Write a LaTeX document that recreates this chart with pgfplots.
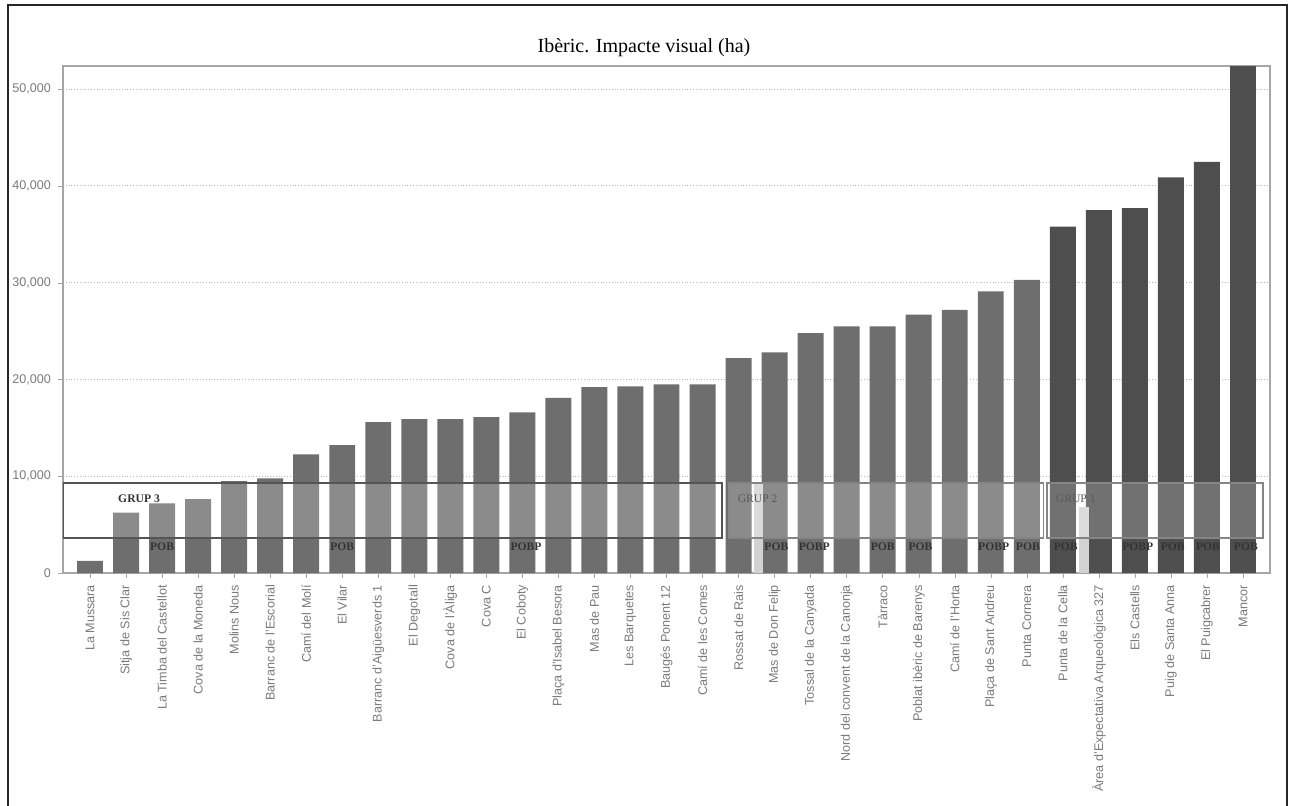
\documentclass[border=0pt]{standalone}
\usepackage{fontspec}
\setmainfont{Liberation Sans}
\newfontfamily\seriffont{Liberation Serif}
\usepackage{pgfplots}
\pgfplotsset{compat=1.18}
\definecolor{barA}{HTML}{6E6E6E}
\definecolor{barB}{HTML}{4E4E4E}
\definecolor{boxA}{HTML}{555555}
\definecolor{boxB}{HTML}{858585}
\definecolor{tickc}{HTML}{7A7A7A}
\begin{document}
\begin{tikzpicture}
\useasboundingbox (0,0) rectangle (646pt,402.5pt);
\draw[line width=0.8pt, black!85] (4pt,-2pt) -- (4pt,400pt) -- (643.5pt,400pt) -- (643.5pt,-2pt);
\node[font=\seriffont\fontsize{10}{12}\selectfont] at (322pt,378.5pt) {Ibèric. Impacte visual (ha)};
\begin{axis}[
  at={(31.5pt,116pt)}, anchor=south west, scale only axis,
  width=603.5pt, height=253.5pt,
  xmin=-0.75, xmax=32.75, ymin=0, ymax=52400,
  ybar, bar width=0.72,
  xtick={0,...,32},
  xtick pos=bottom, ytick pos=left,
  xticklabels={La Mussara, Sitja de Sis Clar, La Timba del Castellot, Cova de la Moneda, Molins Nous, Barranc de l'Escorial, Camí del Molí, El Vilar, Barranc d'Aigüesverds 1, El Degotall, Cova de l'Àliga, Cova C, El Coboty, Plaça d'Isabel Besora, Mas de Pau, Les Barquetes, Baugés Ponent 12, Camí de les Comes, Rossat de Rais, Mas de Don Felip, Tossal de la Canyada, Nord del convent de la Canonja, Tàrraco, Poblat ibèric de Barenys, Camí de l'Horta, Plaça de Sant Andreu, Punta Cornera, Punta de la Cella, Àrea d'Expectativa Arqueològica 327, Els Castells, Puig de Santa Anna, El Puigcabrer, Mancor},
  ytick={0,10000,20000,30000,40000,50000},
  scaled y ticks=false,
  yticklabel style={/pgf/number format/1000 sep={,}, /pgf/number format/assume math mode=true},
  ymajorgrids, grid style={gray!55, densely dotted, line width=0.5pt},
  axis line style={gray!70, line width=0.6pt},
  tick style={gray!70}, tick align=outside, major tick length=2.5pt,
  ticklabel style={font=\fontsize{6.3}{7}\selectfont, text=tickc},
  xticklabel style={rotate=90, anchor=east},
]
\addplot[ybar, bar shift=0pt, fill=barA, draw=none] coordinates {
(0,1250) (1,6230) (2,7200) (3,7640) (4,9500) (5,9780) (6,12260) (7,13220)
(8,15600) (9,15900) (10,15900) (11,16100) (12,16600) (13,18100) (14,19200)
(15,19300) (16,19500) (17,19500) (18,22200) (19,22800) (20,24800) (21,25500)
(22,25500) (23,26700) (24,27200) (25,29100) (26,30300)};
\addplot[ybar, bar shift=0pt, fill=barB, draw=none] coordinates {
(27,35800) (28,37500) (29,37700) (30,40900) (31,42500) (32,52400)};
% light strips
\fill[gray!35] (axis cs:18.42,0) rectangle (axis cs:18.67,9300);
\fill[gray!35] (axis cs:27.44,0) rectangle (axis cs:27.72,6800);
% group boxes
\fill[white, opacity=0.2] (axis cs:-0.75,3600) rectangle (axis cs:17.55,9300);
\draw[boxA, line width=0.9pt] (axis cs:-0.75,3600) rectangle (axis cs:17.55,9300);
\fill[white, opacity=0.2] (axis cs:17.72,3600) rectangle (axis cs:26.47,9300);
\draw[boxB, line width=0.7pt] (axis cs:17.72,3600) rectangle (axis cs:26.47,9300);
\fill[white, opacity=0.2] (axis cs:26.56,3600) rectangle (axis cs:32.56,9300);
\draw[boxB, line width=0.7pt] (axis cs:26.56,3600) rectangle (axis cs:32.56,9300);
\node[font=\seriffont\bfseries\fontsize{5.8}{6}\selectfont, text=black!80] at (axis cs:1.36,7650) {GRUP 3};
\node[font=\seriffont\fontsize{5.8}{6}\selectfont, text=black!65] at (axis cs:18.53,7650) {GRUP 2};
\node[font=\seriffont\fontsize{5.8}{6}\selectfont, text=black!65] at (axis cs:27.36,7650) {GRUP 1};
% POB labels
\begin{scope}[every node/.style={font=\seriffont\bfseries\fontsize{5.8}{6}\selectfont, text=black!80, inner sep=0pt}]
\node at (axis cs:2,2700) {POB};
\node at (axis cs:7,2700) {POB};
\node at (axis cs:12.1,2700) {POBP};
\node at (axis cs:19.05,2700) {POB};
\node at (axis cs:20.1,2700) {POBP};
\node at (axis cs:22,2700) {POB};
\node at (axis cs:23.05,2700) {POB};
\node at (axis cs:25.08,2700) {POBP};
\node at (axis cs:26.03,2700) {POB};
\node at (axis cs:27.08,2700) {POB};
\node at (axis cs:29.08,2700) {POBP};
\node at (axis cs:30.05,2700) {POB};
\node at (axis cs:31.03,2700) {POB};
\node at (axis cs:32.08,2700) {POB};
\end{scope}
\end{axis}
\end{tikzpicture}
\end{document}
